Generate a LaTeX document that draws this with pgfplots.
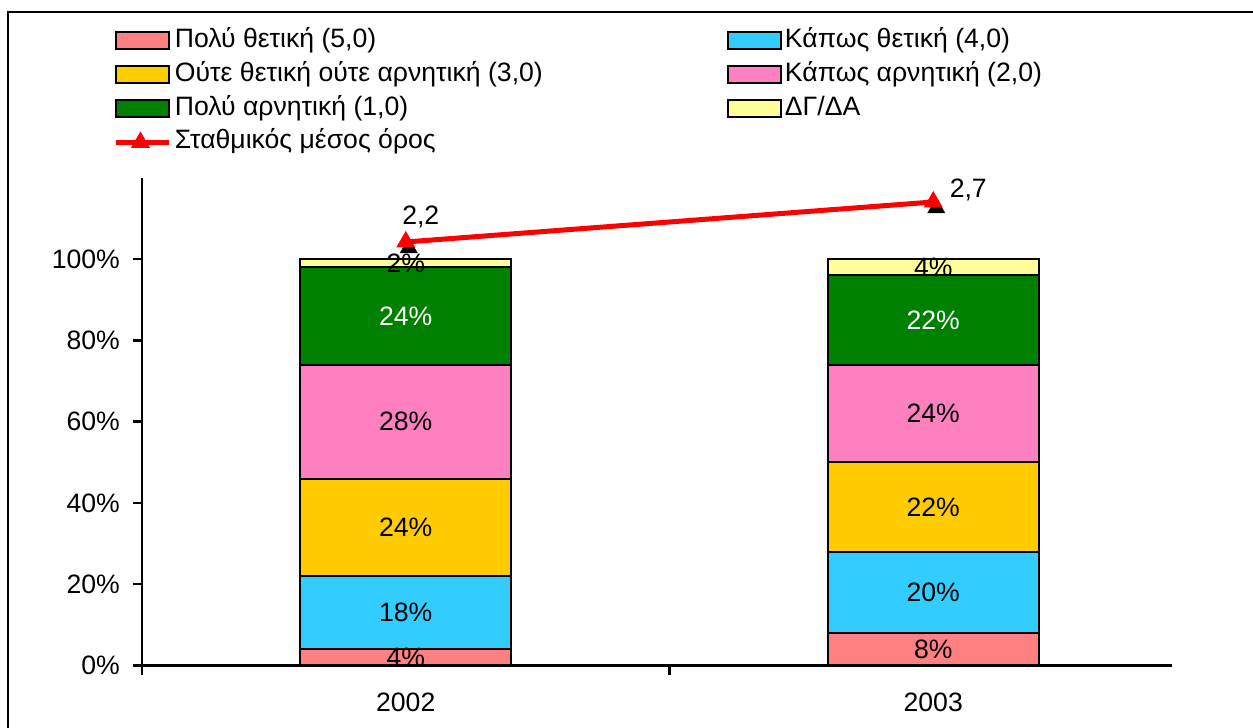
\documentclass[border=0pt]{standalone}
\usepackage{fontspec}
\setmainfont{Liberation Sans}
\usepackage{pgfplots}
\pgfplotsset{compat=1.18}
\definecolor{c5}{HTML}{FF8080}
\definecolor{c4}{HTML}{33CCFF}
\definecolor{c3}{HTML}{FFCC00}
\definecolor{c2}{HTML}{FF80C0}
\definecolor{c1}{HTML}{008000}
\definecolor{c0}{HTML}{FFFF99}
\pgfplotsset{
  boxlegend/.style={legend image code/.code={\draw[##1, line width=2pt] (0pt,-8.5pt) rectangle (53pt,8.5pt);}},
  linelegend/.style={legend image code/.code={%
     \draw[##1, mark=none] (0pt,0pt) -- (53pt,0pt);
     \draw[##1, sharp plot] plot coordinates {(24pt,0pt)};}},
  seg/.style={fill=#1, draw=black, line width=2pt, boxlegend},
}
\newcommand{\colA}[1]{\makebox[382pt][l]{#1}}
\begin{document}
\fontsize{26.6}{32}\selectfont
\begin{tikzpicture}[x=1pt,y=1pt]
\useasboundingbox (0,0) rectangle (1253,728);
\draw[line width=1.5pt] (8,0) -- (8,716) -- (1253,716);
\begin{axis}[
  at={(142pt,62.5pt)}, anchor=south west,
  scale only axis, width=1030pt, height=487.5pt,
  ybar stacked, bar width=211pt,
  xmin=-0.5, xmax=1.4526, ymin=0, ymax=120,
  enlargelimits=false,
  axis x line=bottom, axis y line=left,
  axis line style={-, line width=2.5pt},
  tick align=outside,
  major tick length=9pt, minor tick length=10pt,
  tick style={black, line width=2.5pt},
  xtick={0,1}, xticklabels={2002,2003},
  minor xtick={-0.5,0.5},
  major x tick style={draw=none},
  xticklabel style={anchor=north, inner sep=0pt, yshift=-18.5pt},
  ytick={0,20,40,60,80,100},
  yticklabel={\pgfmathprintnumber{\tick}\%},
  yticklabel style={anchor=east, inner sep=0pt, xshift=-13pt},
  /pgf/number format/assume math mode=true,
  point meta=\thisrow{v},
  nodes near coords={\pgfmathprintnumber{\pgfplotspointmeta}\%},
  every node near coord/.append style={anchor=center, text=black, inner sep=0pt},
  legend columns=2,
  legend cell align=left,
  legend style={at={(axis description cs:-0.0272,1.3067)}, anchor=north west,
    draw=none, fill=none, inner sep=0pt, outer sep=0pt, row sep=8.8pt,
    nodes={inner sep=0pt, text height=19pt, text depth=6pt},
    /tikz/every odd column/.append style={column sep=3pt},
    /tikz/every even column/.append style={column sep=170pt}},
]
\addplot[seg=c5] table[x=x,y=v,row sep=\\] {x v\\ 0 4\\ 1 8\\};
\addlegendentry{\colA{Πολύ θετική (5,0)}}
\addplot[seg=c4] table[x=x,y=v,row sep=\\] {x v\\ 0 18\\ 1 20\\};
\addlegendentry{Κάπως θετική (4,0)}
\addplot[seg=c3] table[x=x,y=v,row sep=\\] {x v\\ 0 24\\ 1 22\\};
\addlegendentry{\colA{Ούτε θετική ούτε αρνητική (3,0)}}
\addplot[seg=c2] table[x=x,y=v,row sep=\\] {x v\\ 0 28\\ 1 24\\};
\addlegendentry{Κάπως αρνητική (2,0)}
\addplot[seg=c1, every node near coord/.append style={text=white}] table[x=x,y=v,row sep=\\] {x v\\ 0 24\\ 1 22\\};
\addlegendentry{\colA{Πολύ αρνητική (1,0)}}
\addplot[seg=c0] table[x=x,y=v,row sep=\\] {x v\\ 0 2\\ 1 4\\};
\addlegendentry{ΔΓ/ΔΑ}
\addlegendimage{linelegend, red, line width=5pt, mark=triangle*, mark size=10pt, mark options={solid, fill=red, draw=red, line width=1pt}}
\addlegendentry{\colA{Σταθμικός μέσος όρος}}
\end{axis}
\begin{axis}[
  at={(142pt,62.5pt)}, anchor=south west,
  scale only axis, width=1030pt, height=487.5pt,
  xmin=-0.5, xmax=1.4526, ymin=-3.094, ymax=3.0,
  hide axis, clip=false,
  /pgf/number format/assume math mode=true,
  /pgf/number format/use comma,
  /pgf/number format/fixed,
  /pgf/number format/fixed zerofill,
  /pgf/number format/precision=1,
]
\addplot[only marks, mark=triangle*, mark size=10pt, mark options={black, fill=black, xshift=3pt, yshift=-6pt}] coordinates {(0,2.2) (1,2.7)};
\addplot[red, line width=5pt, mark=triangle*, mark size=10pt, mark options={solid, fill=red, draw=red, line width=1pt}] coordinates {(0,2.2) (1,2.7)};
\addplot[draw=none, mark=none, nodes near coords, point meta=y, every node near coord/.append style={text=black, anchor=center, inner sep=0pt, xshift=15pt, yshift=25pt}] coordinates {(0,2.2)};
\addplot[draw=none, mark=none, nodes near coords, point meta=y, every node near coord/.append style={text=black, anchor=center, inner sep=0pt, xshift=35pt, yshift=12pt}] coordinates {(1,2.7)};
\end{axis}
\end{tikzpicture}
\end{document}
